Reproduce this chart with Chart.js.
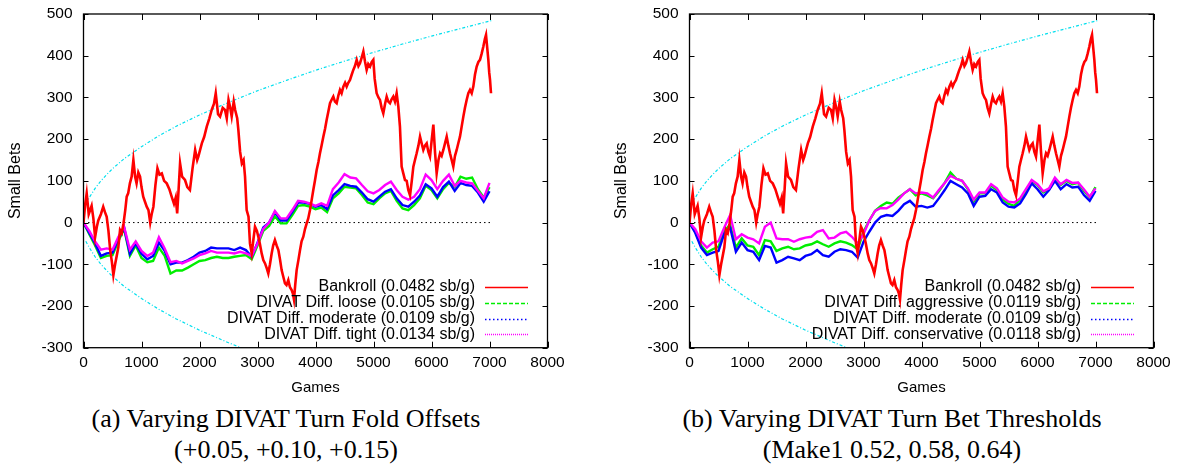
<!DOCTYPE html>
<html>
<head>
<meta charset="utf-8">
<script src="https://cdn.jsdelivr.net/npm/chart.js@4.4.1/dist/chart.umd.min.js"></script>
<style>
    body { margin: 0; background: #fff; width: 1178px; height: 466px; overflow: hidden; position: relative; }
    canvas { position: absolute; top: 0; }
    #chartA { left: 0; }
    #chartB { left: 606px; }
    .caption {
        position: absolute; top: 403px; width: 520px; text-align: center;
        font-family: "Liberation Serif", "Times New Roman", serif; font-size: 26px; line-height: 31px; color: #000;
    }
    #capA { left: 26px; }
    #capB { left: 632px; }
</style>
</head>
<body>
<canvas id="chartA" width="572" height="400"></canvas>
<canvas id="chartB" width="572" height="400"></canvas>
<div class="caption" id="capA">(a) Varying DIVAT Turn Fold Offsets<br>(+0.05, +0.10, +0.15)</div>
<div class="caption" id="capB">(b) Varying DIVAT Turn Bet Thresholds<br>(Make1 0.52, 0.58, 0.64)</div>
<script>
// --- tick labels ---
const xTickValues = [0, 1000, 2000, 3000, 4000, 5000, 6000, 7000, 8000];
const yTickValues = [-300, -200, -100, 0, 100, 200, 300, 400, 500];

// --- bankroll (same in both panels) ---
const bankGames = [0, 30, 55, 90, 140, 170, 200, 230, 255, 300, 340, 370, 400, 430, 460, 490, 515, 545, 570, 600,
    630, 660, 690, 720, 745, 770, 800, 830, 860, 890, 915, 945, 975, 1000, 1030, 1060, 1090, 1120, 1150, 1175,
    1205, 1240, 1275, 1310, 1350, 1390, 1435, 1480, 1520, 1560, 1590, 1615, 1640, 1665, 1700, 1750, 1790, 1835, 1880, 1925,
    1960, 1980, 2040, 2080, 2125, 2170, 2210, 2250, 2280, 2320, 2355, 2400, 2440, 2470, 2500, 2530, 2555, 2590, 2615, 2650,
    2670, 2700, 2730, 2760, 2785, 2813, 2845, 2870, 2900, 2930, 2957, 2990, 3014, 3040, 3072, 3100, 3130, 3160, 3186, 3215,
    3244, 3270, 3300, 3330, 3360, 3390, 3416, 3445, 3474, 3500, 3531, 3560, 3589, 3610, 3629, 3650, 3675, 3705, 3733, 3760,
    3790, 3820, 3848, 3875, 3905, 3935, 3962, 3990, 4020, 4050, 4077, 4105, 4135, 4165, 4192, 4220, 4250, 4280, 4307, 4335,
    4365, 4395, 4422, 4450, 4480, 4510, 4537, 4565, 4595, 4625, 4652, 4680, 4710, 4740, 4767, 4795, 4825, 4855, 4882, 4910,
    4940, 4970, 4997, 5020, 5054, 5085, 5112, 5140, 5169, 5200, 5227, 5255, 5284, 5310, 5341, 5370, 5399, 5428, 5456, 5485,
    5514, 5543, 5572, 5600, 5630, 5660, 5687, 5715, 5744, 5775, 5802, 5830, 5859, 5890, 5917, 5945, 5974, 6005, 6032, 6060,
    6089, 6120, 6147, 6175, 6204, 6233, 6262, 6290, 6319, 6348, 6376, 6405, 6434, 6462, 6491, 6520, 6549, 6577, 6606, 6635,
    6664, 6693, 6721, 6750, 6779, 6808, 6836, 6865, 6894, 6920, 6940, 6960, 6980, 6995, 7009, 7026];
const bankroll = [0, 45, 70, 20, 40, 10, -35, -10, 5, 20, 38, 25, 14, -20, -66, -95, -126, -100, -82, -60,
    -18, -25, -2, 30, 62, 70, 94, 110, 150, 110, 94, 120, 110, 85, 62, 50, 38, 30, 0, 20,
    38, 90, 130, 115, 118, 100, 94, 80, 62, 45, 60, 22, 80, 142, 110, 102, 85, 78, 130, 174,
    150, 158, 190, 205, 230, 250, 270, 285, 310, 260, 254, 275, 270, 250, 294, 275, 254, 290, 270, 250,
    222, 170, 142, 150, 110, 30, 14, -50, -74, -40, -10, -20, -34, -50, -74, -90, -98, -110, -122, -100,
    -74, -55, -42, -55, -66, -90, -114, -130, -146, -150, -138, -155, -162, -170, -185, -150, -114, -90, -66, -45,
    -34, -15, -2, 10, 30, 55, 78, 100, 126, 145, 166, 185, 206, 225, 246, 265, 286, 295, 302, 290,
    286, 305, 318, 310, 326, 335, 326, 335, 342, 355, 366, 375, 390, 375, 382, 395, 410, 385, 366, 380,
    374, 385, 390, 345, 310, 300, 294, 275, 262, 285, 302, 290, 286, 295, 302, 290, 310, 278, 230, 134,
    118, 102, 100, 78, 65, 100, 134, 150, 166, 185, 206, 190, 174, 185, 190, 170, 158, 200, 235, 170,
    118, 150, 166, 160, 174, 190, 206, 185, 166, 150, 134, 160, 174, 190, 206, 230, 254, 275, 294, 310,
    318, 310, 326, 355, 374, 385, 390, 405, 422, 440, 450, 420, 390, 360, 342, 310];

// --- DIVAT series, sampled every 100 games ---
const divatGames = [0, 100, 200, 300, 400, 500, 600, 700, 800, 900, 1000, 1100, 1200, 1300, 1400, 1500, 1600, 1700, 1800, 1900,
    2000, 2100, 2200, 2300, 2400, 2500, 2600, 2700, 2800, 2900, 3000, 3100, 3200, 3300, 3400, 3500, 3600, 3700, 3800, 3900,
    4000, 4100, 4200, 4300, 4400, 4500, 4600, 4700, 4800, 4900, 5000, 5100, 5200, 5300, 5400, 5500, 5600, 5700, 5800, 5900,
    6000, 6100, 6200, 6300, 6400, 6500, 6600, 6700, 6800, 6900, 7000];

// panel (a)
const looseA = [0, -28, -55, -85, -80, -78, -45, -15, -80, -55, -85, -95, -92, -60, -80, -122, -115, -115, -108, -100,
    -92, -90, -85, -82, -85, -85, -82, -80, -78, -88, -55, -20, -8, 15, -2, -2, 18, 40, 42, 38,
    32, 36, 25, 58, 70, 86, 84, 82, 66, 48, 44, 58, 70, 76, 52, 34, 30, 42, 58, 88,
    78, 58, 80, 95, 85, 110, 105, 108, 80, 60, 85];
const moderateA = [0, -25, -50, -80, -74, -72, -40, -12, -75, -50, -75, -88, -80, -48, -68, -100, -96, -96, -90, -82,
    -72, -68, -60, -62, -62, -62, -66, -60, -66, -82, -48, -12, 0, 25, 5, 5, 26, 48, 48, 45,
    38, 42, 32, 65, 78, 92, 88, 86, 72, 56, 50, 62, 74, 80, 58, 42, 38, 50, 65, 92,
    82, 62, 85, 98, 76, 95, 90, 88, 72, 50, 75];
const tightA = [0, -20, -45, -65, -62, -65, -35, -10, -65, -45, -68, -80, -72, -35, -62, -95, -92, -98, -92, -86,
    -78, -74, -68, -72, -72, -72, -74, -70, -74, -80, -50, -15, 0, 28, 10, 10, 30, 52, 50, 46,
    40, 46, 40, 80, 96, 116, 108, 106, 90, 75, 70, 78, 90, 98, 78, 62, 55, 62, 80, 115,
    102, 80, 100, 115, 88, 100, 96, 94, 76, 58, 95];

// panel (b)
const aggressiveB = [0, -22, -55, -72, -64, -58, -20, -5, -60, -38, -55, -58, -78, -42, -45, -68, -62, -58, -64, -62,
    -55, -52, -45, -52, -58, -50, -45, -48, -54, -64, -22, 5, 28, 40, 48, 45, 60, 70, 80, 65,
    70, 65, 58, 75, 95, 120, 105, 100, 80, 50, 70, 70, 88, 78, 55, 45, 40, 55, 75, 100,
    90, 72, 80, 105, 90, 100, 92, 95, 76, 60, 85];
const moderateB = [0, -25, -60, -78, -72, -68, -26, -12, -70, -48, -66, -70, -90, -56, -60, -96, -90, -82, -86, -90,
    -80, -76, -66, -78, -82, -70, -64, -66, -70, -84, -46, -22, 0, 14, 18, 16, 28, 44, 52, 38,
    40, 36, 40, 58, 78, 100, 92, 84, 70, 40, 62, 64, 80, 72, 48, 38, 36, 46, 68, 94,
    80, 62, 78, 100, 80, 92, 84, 86, 66, 52, 76];
const conservativeB = [0, -16, -45, -60, -48, -45, -12, 18, -40, -28, -36, -40, -50, -10, 0, -38, -40, -40, -46, -40,
    -36, -34, -22, -18, -38, -36, -26, -22, -34, -50, -28, 5, 28, 35, 34, 42, 55, 70, 80, 70,
    72, 70, 60, 78, 95, 112, 105, 100, 82, 55, 72, 72, 92, 82, 60, 50, 48, 58, 80, 102,
    92, 75, 82, 108, 92, 102, 95, 96, 80, 62, 82];

// --- cyan envelope and zero line ---
const envGames = [40, 100, 200, 300, 400, 500, 700, 1000, 1300, 1600, 2000, 2500, 3000, 3500, 4000, 4500, 5000, 5500, 6000, 6500, 7030];
const envUpper = [45, 60, 82, 100, 115, 129, 153, 182, 208, 231, 258, 288, 316, 341, 365, 387, 408, 428, 447, 465, 484];
const envLower = [-45, -60, -82, -100, -115, -129, -153, -182, -208, -231, -258, -288, -316, -341, -365, -387, -408, -428, -447, -465, -484];
const zeroGames = [0, 7030];
const zeroLine = [0, 0];

Chart.defaults.font.family = '"Liberation Sans", Arial, sans-serif';
Chart.defaults.font.size = 15.5;
Chart.defaults.color = '#000';

function pts(xs, ys) {
    return xs.map((x, i) => ({ x: x, y: ys[i] }));
}

// frame + inward ticks on all four sides, gnuplot style
const framePlugin = {
    id: 'frame',
    afterDraw(chart) {
        const ctx = chart.ctx;
        const a = chart.chartArea;
        ctx.save();
        ctx.strokeStyle = '#000';
        ctx.lineWidth = 1;
        ctx.setLineDash([]);
        ctx.beginPath();
        chart.scales.x.ticks.forEach(t => {
            const px = Math.round(chart.scales.x.getPixelForValue(t.value)) + 0.5;
            ctx.moveTo(px, a.bottom); ctx.lineTo(px, a.bottom - 6);
            ctx.moveTo(px, a.top); ctx.lineTo(px, a.top + 6);
        });
        chart.scales.y.ticks.forEach(t => {
            const py = Math.round(chart.scales.y.getPixelForValue(t.value)) + 0.5;
            ctx.moveTo(a.left, py); ctx.lineTo(a.left + 5, py);
            ctx.moveTo(a.right, py); ctx.lineTo(a.right - 5, py);
        });
        ctx.stroke();
        ctx.lineWidth = 1.3;
        ctx.strokeRect(a.left, a.top, a.right - a.left, a.bottom - a.top);
        ctx.restore();
    }
};

// legend: right-aligned text followed by a line sample
const keyPlugin = {
    id: 'key',
    afterDraw(chart) {
        const ctx = chart.ctx;
        const a = chart.chartArea;
        const items = chart.data.datasets.filter(d => d.keyDash);
        ctx.save();
        ctx.font = '16px "Liberation Sans", Arial, sans-serif';
        ctx.textAlign = 'right';
        ctx.textBaseline = 'middle';
        items.forEach((d, i) => {
            const y = a.top + 273 + i * 15.8;
            ctx.fillStyle = '#000';
            ctx.fillText(d.label, a.left + 391.5, y);
            ctx.strokeStyle = d.borderColor;
            ctx.lineWidth = 1.6;
            ctx.setLineDash(d.keyDash);
            ctx.beginPath();
            ctx.moveTo(a.left + 401.5, Math.round(y) + 0.5);
            ctx.lineTo(a.left + 444.5, Math.round(y) + 0.5);
            ctx.stroke();
        });
        ctx.restore();
    }
};

function makeChart(id, series) {
    const datasets = [
        { label: 'Bankroll (0.0482 sb/g)', data: pts(bankGames, bankroll), borderColor: '#ff0000', borderWidth: 2.6, keyDash: [1, 0], order: 0 },
        { label: series[0].label, data: pts(divatGames, series[0].values), borderColor: '#00ee00', borderWidth: 2.4, keyDash: [4, 2], order: 3 },
        { label: series[1].label, data: pts(divatGames, series[1].values), borderColor: '#0000ff', borderWidth: 2.4, keyDash: [1.5, 2.5], order: 2 },
        { label: series[2].label, data: pts(divatGames, series[2].values), borderColor: '#ff00ff', borderWidth: 2.4, keyDash: [1, 1], order: 1 },
        { label: 'upper', data: pts(envGames, envUpper), borderColor: '#00dfee', borderWidth: 1.2, borderDash: [3, 2, 1, 2], order: 4 },
        { label: 'lower', data: pts(envGames, envLower), borderColor: '#00dfee', borderWidth: 1.2, borderDash: [3, 2, 1, 2], order: 4 },
        { label: 'zero', data: pts(zeroGames, zeroLine), borderColor: '#000', borderWidth: 1, borderDash: [1.5, 3], order: 5 }
    ];
    return new Chart(document.getElementById(id), {
        type: 'line',
        data: { datasets: datasets },
        plugins: [framePlugin, keyPlugin],
        options: {
            responsive: false,
            animation: false,
            events: [],
            layout: { padding: { left: 0, top: 14, right: 24.5, bottom: 0 } },
            elements: { point: { radius: 0 }, line: { tension: 0, fill: false } },
            plugins: { legend: { display: false }, tooltip: { enabled: false } },
            scales: {
                x: {
                    type: 'linear', min: 0, max: 8000,
                    afterBuildTicks: s => { s.ticks = xTickValues.map(v => ({ value: v })); },
                    ticks: { padding: 6, maxRotation: 0, autoSkip: false, callback: v => String(v) },
                    grid: { display: false, drawTicks: false },
                    border: { display: false },
                    title: { display: true, text: 'Games', font: { size: 15 }, padding: { top: 0, bottom: 3 } },
                    afterFit: s => { s.height = 52.3; s.paddingLeft = 0; s.paddingRight = 0; }
                },
                y: {
                    type: 'linear', min: -300, max: 500,
                    afterBuildTicks: s => { s.ticks = yTickValues.map(v => ({ value: v })); },
                    ticks: { padding: 11, autoSkip: false, callback: v => String(v) },
                    grid: { display: false, drawTicks: false },
                    border: { display: false },
                    title: { display: true, text: 'Small Bets', font: { size: 16 }, padding: { top: 6, bottom: 0 } },
                    afterFit: s => { s.width = 83.5; s.paddingTop = 0; s.paddingBottom = 0; }
                }
            }
        }
    });
}

makeChart('chartA', [
    { label: 'DIVAT Diff. loose (0.0105 sb/g)', values: looseA },
    { label: 'DIVAT Diff. moderate (0.0109 sb/g)', values: moderateA },
    { label: 'DIVAT Diff. tight (0.0134 sb/g)', values: tightA }
]);
makeChart('chartB', [
    { label: 'DIVAT Diff. aggressive (0.0119 sb/g)', values: aggressiveB },
    { label: 'DIVAT Diff. moderate (0.0109 sb/g)', values: moderateB },
    { label: 'DIVAT Diff. conservative (0.0118 sb/g)', values: conservativeB }
]);
</script>
</body>
</html>
